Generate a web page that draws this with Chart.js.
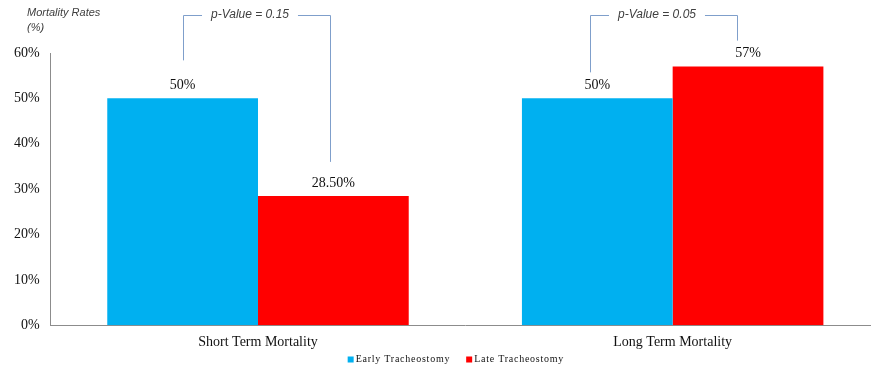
<!DOCTYPE html>
<html>
<head>
	<meta charset="utf-8">
	<script src="https://cdn.jsdelivr.net/npm/chart.js@4/dist/chart.umd.min.js"></script>
	<style type="text/css">
	body{
		margin: 0;
		overflow: hidden;
		background: #fff;
	}
	#holder{
		width: 880px;
		height: 367px;
		position: relative;
	}
	</style>
</head>
<body>
	<div id="holder"><canvas id="chart-area"></canvas></div>

	<script>
	var categories = ['Short Term Mortality', 'Long Term Mortality'];
	var seriesNames = ['Early Tracheostomy', 'Late Tracheostomy'];
	var earlyValues = [50, 50];
	var lateValues = [28.5, 57];
	var earlyLabels = ['50%', '50%'];
	var lateLabels = ['28.50%', '57%'];
	var pValues = ['p-Value = 0.15', 'p-Value = 0.05'];
	var yTicks = [0, 10, 20, 30, 40, 50, 60];
	var colors = ['#00b0f0', '#ff0000'];

	var serif = '"Liberation Serif", "Times New Roman", serif';
	var sans = '"Liberation Sans", Arial, sans-serif';

	// value labels above bars, p-value brackets, axis title and legend
	var annotations = {
		id: 'annotations',
		afterDatasetsDraw: function(chart) {
			var ctx = chart.ctx;
			var labels = [earlyLabels, lateLabels];
			ctx.save();
			ctx.font = '14px ' + serif;
			ctx.fillStyle = '#111';
			ctx.textAlign = 'center';
			ctx.textBaseline = 'middle';
			for (var d = 0; d < 2; d++) {
				var meta = chart.getDatasetMeta(d);
				meta.data.forEach(function(bar, i) {
					ctx.fillText(labels[d][i], bar.x, bar.y - 13);
				});
			}

			var topY = 15;
			ctx.strokeStyle = '#7f9fcb';
			ctx.lineWidth = 1;
			ctx.font = 'italic 12px ' + sans;
			ctx.fillStyle = '#404040';
			for (var i = 0; i < categories.length; i++) {
				var a = chart.getDatasetMeta(0).data[i];
				var b = chart.getDatasetMeta(1).data[i];
				var x1 = Math.round(a.x) + 0.5 - (i ? 7 : 0);
				var x2 = Math.round(b.x) + 0.5 - (i ? 11 : 3);
				var mid = (x1 + x2) / 2;
				var tw = ctx.measureText(pValues[i]).width;
				ctx.beginPath();
				ctx.moveTo(x1, a.y - (i ? 26 : 38));
				ctx.lineTo(x1, topY + 0.5);
				ctx.lineTo(mid - tw / 2 - 16, topY + 0.5);
				ctx.moveTo(mid + tw / 2 + 2, topY + 0.5);
				ctx.lineTo(x2, topY + 0.5);
				ctx.lineTo(x2, b.y - (i ? 26 : 34));
				ctx.stroke();
				ctx.fillText(pValues[i], mid - 7, topY);
			}

			ctx.font = 'italic 11px ' + sans;
			ctx.textAlign = 'left';
			ctx.fillText('Mortality Rates', 27, 13);
			ctx.fillText('(%)', 27, 28);

			// legend
			ctx.font = '10px ' + serif;
			ctx.letterSpacing = '0.75px';
			var lx = chart.chartArea.left + 297;
			var ly = 359.5;
			for (var s = 0; s < seriesNames.length; s++) {
				ctx.fillStyle = colors[s];
				ctx.fillRect(lx, ly - 3, 6, 6);
				ctx.fillStyle = '#111';
				ctx.fillText(seriesNames[s], lx + 8, ly);
				lx += 8 + ctx.measureText(seriesNames[s]).width + 16;
			}
			ctx.restore();
		}
	};

	var config = {
		type: 'bar',
		data: {
			labels: categories,
			datasets: [{
				label: seriesNames[0],
				data: earlyValues,
				backgroundColor: colors[0]
			}, {
				label: seriesNames[1],
				data: lateValues,
				backgroundColor: colors[1]
			}]
		},
		options: {
			responsive: true,
			maintainAspectRatio: false,
			animation: false,
			barPercentage: 1,
			categoryPercentage: 0.727,
			layout: {
				padding: { top: 53, left: 3, right: 0, bottom: 7 }
			},
			plugins: {
				legend: { display: false },
				tooltip: { enabled: false }
			},
			scales: {
				x: {
					grid: { display: false, drawTicks: false },
					border: { color: '#8c8c8c' },
					ticks: {
						color: '#111',
						padding: 9,
						font: { family: serif, size: 14 }
					}
				},
				y: {
					min: 0,
					max: 60,
					afterBuildTicks: function(axis) {
						axis.ticks = yTicks.map(function(v) { return { value: v }; });
					},
					grid: { display: false, drawTicks: false },
					border: { color: '#8c8c8c' },
					ticks: {
						color: '#111',
						padding: 11,
						font: { family: serif, size: 14 },
						callback: function(v) { return v + '%'; }
					}
				}
			}
		},
		plugins: [annotations]
	};

	window.onload = function() {
		var ctx = document.getElementById('chart-area').getContext('2d');
		new Chart(ctx, config);
	};
	</script>
</body>
</html>
